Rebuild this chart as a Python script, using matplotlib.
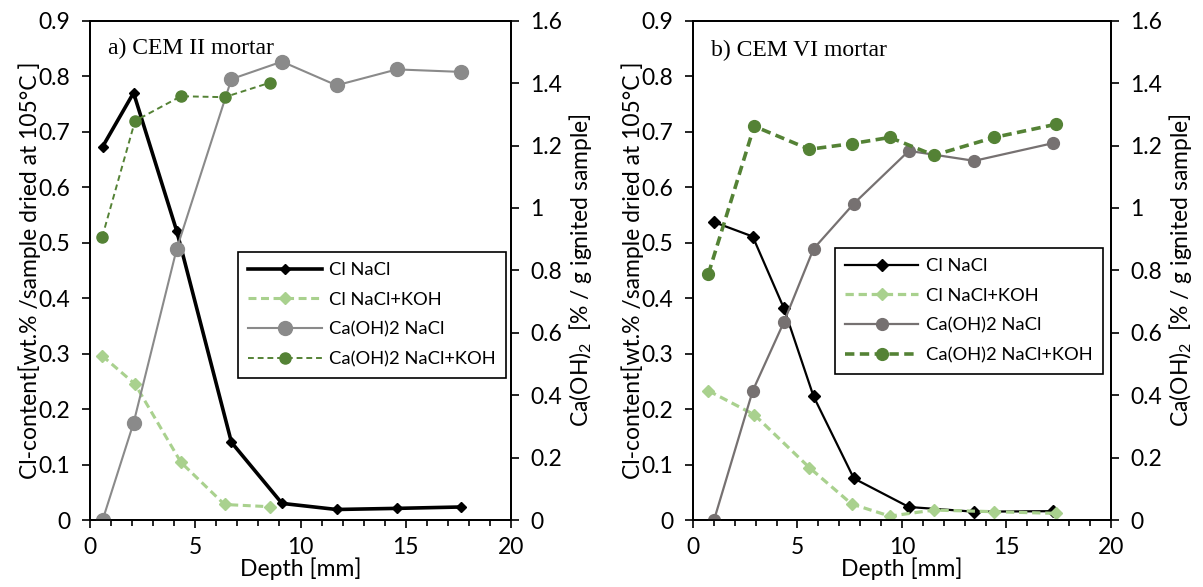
import matplotlib
matplotlib.use("Agg")
import matplotlib.pyplot as plt
from matplotlib.ticker import MultipleLocator, FuncFormatter

plt.rcParams['font.family'] = ['Lato', 'DejaVu Sans']
plt.rcParams['mathtext.default'] = 'regular'

# ---- data: a) CEM II mortar ----
a_depth_nacl = [0.6, 2.07, 4.12, 6.72, 9.12, 11.71, 14.58, 17.62]
a_cl_nacl = [0.673, 0.770, 0.521, 0.140, 0.030, 0.019, 0.021, 0.0235]
a_caoh_nacl = [0.0, 0.311, 0.869, 1.413, 1.469, 1.393, 1.444, 1.436]
a_depth_koh = [0.58, 2.14, 4.32, 6.39, 8.53]
a_cl_koh = [0.296, 0.245, 0.104, 0.028, 0.024]
a_caoh_koh = [0.907, 1.279, 1.358, 1.355, 1.401]

# ---- data: b) CEM VI mortar ----
b_depth_nacl = [1.01, 2.86, 4.35, 5.77, 7.70, 10.33, 13.46, 17.25]
b_cl_nacl = [0.537, 0.511, 0.382, 0.223, 0.075, 0.0235, 0.015, 0.016]
b_caoh_nacl = [0.0, 0.414, 0.634, 0.869, 1.014, 1.183, 1.151, 1.208]
b_depth_koh = [0.74, 2.93, 5.57, 7.59, 9.42, 11.53, 14.41, 17.36]
b_cl_koh = [0.233, 0.190, 0.0945, 0.029, 0.007, 0.018, 0.015, 0.012]
b_caoh_koh = [0.789, 1.262, 1.188, 1.206, 1.226, 1.169, 1.226, 1.268]

labels = ["Cl NaCl", "Cl NaCl+KOH", "Ca(OH)2 NaCl", "Ca(OH)2 NaCl+KOH"]

LIGHT_GREEN = "#a9d18e"
DARK_GREEN = "#548235"

fig = plt.figure(figsize=(12.03, 5.87), dpi=100)

fmt = FuncFormatter(lambda v, p: f"{v:g}")


def style_axes(ax, ax2):
    ax.set_xlim(0, 20)
    ax.set_ylim(0, 0.9)
    ax2.set_ylim(0, 1.6)
    ax.xaxis.set_major_locator(MultipleLocator(5))
    ax.xaxis.set_minor_locator(MultipleLocator(1))
    ax.yaxis.set_major_locator(MultipleLocator(0.1))
    ax2.yaxis.set_major_locator(MultipleLocator(0.2))
    ax.yaxis.set_major_formatter(fmt)
    ax2.yaxis.set_major_formatter(fmt)
    for a in (ax, ax2):
        for s in a.spines.values():
            s.set_linewidth(1.3)
    ax.tick_params(axis='x', which='major', direction='out', length=6, width=1.2,
                   pad=6.5, labelsize=16.5)
    ax.tick_params(axis='x', which='minor', direction='out', length=4, width=1.2)
    ax.tick_params(axis='y', direction='out', length=6, width=1.2, pad=8, labelsize=16.5)
    ax2.tick_params(axis='y', direction='out', length=6, width=1.2, pad=8, labelsize=16.5)
    ax.set_xlabel("Depth [mm]", fontsize=16.5, labelpad=-1)
    ax.set_ylabel("Cl-content[wt.% /sample dried at 105°C ]", fontsize=16.5, labelpad=-2)
    ax2.set_ylabel("Ca(OH)$_2$  [% / g ignited sample]", fontsize=16.5, labelpad=3)


# ---- panel a ----
ax = fig.add_axes([0.0748, 0.1141, 0.350, 0.8506])
ax2 = ax.twinx()
h1, = ax.plot(a_depth_nacl, a_cl_nacl, color='black', lw=2.6, marker='D', ms=5.5)
h2, = ax.plot(a_depth_koh, a_cl_koh, color=LIGHT_GREEN, lw=2.2, ls=(0, (2.6, 1.5)),
              marker='D', ms=6.5)
h3, = ax2.plot(a_depth_nacl, a_caoh_nacl, color='#8a8a8a', lw=1.5, marker='o', ms=10)
h4, = ax2.plot(a_depth_koh, a_caoh_koh, color=DARK_GREEN, lw=1.4, ls=(0, (3, 2)),
               marker='o', ms=8)
style_axes(ax, ax2)
ax.text(0.043, 0.945, "a) CEM II mortar", transform=ax.transAxes, fontsize=17,
        family='Liberation Serif', va='center', ha='left')
leg = ax2.legend([h1, h2, h3, h4], labels, loc='upper left',
                 bbox_to_anchor=(0.352, 0.537), fontsize=13.2, frameon=True,
                 fancybox=False, edgecolor='black', framealpha=1,
                 handlelength=4.0, handletextpad=0.4, labelspacing=0.75,
                 borderpad=0.55, borderaxespad=0)
leg.get_frame().set_linewidth(1.2)

# ---- panel b ----
bx = fig.add_axes([0.576, 0.1141, 0.3475, 0.8506])
bx2 = bx.twinx()
g1, = bx.plot(b_depth_nacl, b_cl_nacl, color='black', lw=1.6, marker='D', ms=6)
g2, = bx.plot(b_depth_koh, b_cl_koh, color=LIGHT_GREEN, lw=2.3, ls=(0, (2.6, 1.5)),
              marker='D', ms=6.5)
g3, = bx2.plot(b_depth_nacl, b_caoh_nacl, color='#767171', lw=1.6, marker='o', ms=8.5)
g4, = bx2.plot(b_depth_koh, b_caoh_koh, color=DARK_GREEN, lw=2.6, ls=(0, (2.6, 1.5)),
               marker='o', ms=8.5)
style_axes(bx, bx2)
bx.text(0.043, 0.94, "b) CEM VI mortar", transform=bx.transAxes, fontsize=17,
        family='Liberation Serif', va='center', ha='left')
leg = bx2.legend([g1, g2, g3, g4], labels, loc='upper left',
                 bbox_to_anchor=(0.34, 0.545), fontsize=13.2, frameon=True,
                 fancybox=False, edgecolor='black', framealpha=1,
                 handlelength=4.0, handletextpad=0.4, labelspacing=0.75,
                 borderpad=0.55, borderaxespad=0)
leg.get_frame().set_linewidth(1.2)

fig.savefig("out.png", dpi=100)
